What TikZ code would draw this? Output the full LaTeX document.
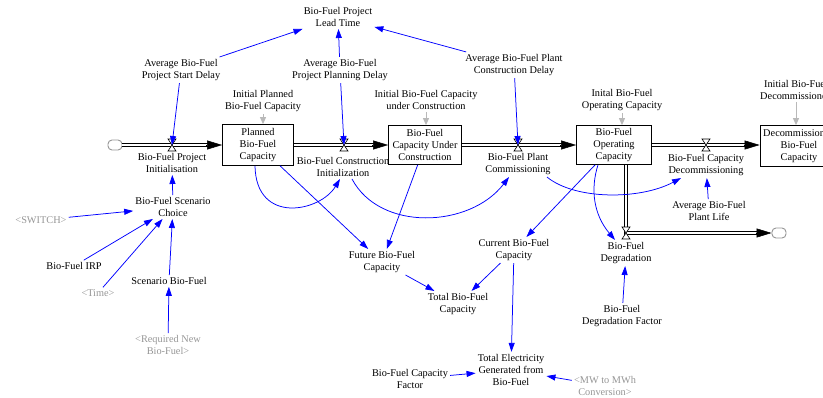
\documentclass[tikz,border=0pt]{standalone}
\usepackage{fontspec}
\setmainfont{Liberation Serif}
\usetikzlibrary{arrows.meta}
\definecolor{vblue}{RGB}{0,0,255}
\definecolor{ghost}{RGB}{150,150,150}
\definecolor{garrow}{RGB}{185,185,185}
\begin{document}
\begin{tikzpicture}[x=1pt,y=-1pt,
 every node/.style={font=\fontsize{10.3}{12.3}\selectfont, align=center, inner sep=2pt},
 ghosttext/.style={text=ghost},
 stock/.style={draw, line width=0.75pt, minimum width=#1, minimum height=39pt, inner sep=1pt},
 link/.style={draw=vblue, line width=0.75pt, -{Triangle[length=9pt,width=6pt]}},
 glink/.style={draw=garrow, line width=0.9pt, -{Triangle[length=7pt,width=6pt]}},
 pipe/.style={draw=black, line width=0.7pt, double=white, double distance=1.8pt},
 pipetip/.style={-{Triangle[length=15pt,width=9pt]}, line width=0.5pt},
 cloudy/.style={rectangle, rounded corners=4pt, draw=ghost, fill=white, line width=0.9pt, minimum width=14pt, minimum height=10pt, inner sep=0pt},
 valve/.pic={\draw[fill=white, line width=0.6pt] (-4,-6) -- (4,-6) -- (-4,6) -- (4,6) -- cycle;}
]
\path[use as bounding box] (0,0) rectangle (823,397);
\clip (0,0) rectangle (823,397);

% stocks
\node[stock=71pt, minimum height=41pt] (planned) at (258,145) {Planned\\Bio-Fuel\\Capacity};
\node[stock=73pt] (uc) at (425,145) {Bio-Fuel\\Capacity Under\\Construction};
\node[stock=75pt] (op) at (614,145) {Bio-Fuel\\Operating\\Capacity};
\node[stock=78pt, minimum height=41pt] (dec) at (799,146) {Decommissioned\\Bio-Fuel\\Capacity};

% clouds
\node[cloudy] (c1) at (115,145) {};
\node[cloudy] (c2) at (779,233) {};

% valves (centres)
\coordinate (v1) at (172,145);
\coordinate (v2) at (344,145);
\coordinate (v3) at (518,145);
\coordinate (v4) at (706,145);
\coordinate (v5) at (626,233);

% pipes
\draw[pipe] (c1.east) -- ([xshift=-14pt]planned.west);
\draw[pipetip] ([xshift=-16pt]planned.west) -- (planned.west);
\draw[pipe] (planned.east) -- ([xshift=-14pt]uc.west);
\draw[pipetip] ([xshift=-16pt]uc.west) -- (uc.west);
\draw[pipe] (uc.east) -- ([xshift=-14pt]op.west);
\draw[pipetip] ([xshift=-16pt]op.west) -- (op.west);
\draw[pipe] (op.east) -- ([xshift=-14pt]dec.west |- op.east);
\draw[pipetip] ([xshift=-16pt]dec.west |- op.east) -- (dec.west |- op.east);
\draw[pipe] ([xshift=12pt]op.south) -- (v5) -- ([xshift=-14pt]c2.west);
\draw[pipetip] ([xshift=-16pt]c2.west) -- (c2.west);

\pic at (v1) {valve};
\pic at (v2) {valve};
\pic at (v3) {valve};
\pic at (v4) {valve};
\pic at (v5) {valve};

% flow labels
\node (init) at (172,163) {Bio-Fuel Project\\Initialisation};
\node (cinit) at (343,167) {Bio-Fuel Construction\\Initialization};
\node (pcomm) at (518,164) {Bio-Fuel Plant\\Commissioning};
\node (cdecom) at (706,165) {Bio-Fuel Capacity\\Decommissioning};
\node (deg) at (626,253) {Bio-Fuel\\Degradation};

% auxiliaries
\node (lt) at (338,17) {Bio-Fuel Project\\Lead Time};
\node (asd) at (181,70) {Average Bio-Fuel\\Project Start Delay};
\node (apd) at (340,70) {Average Bio-Fuel\\Project Planning Delay};
\node (acd) at (514,65) {Average Bio-Fuel Plant\\Construction Delay};
\node (ipc) at (263,101) {Initial Planned\\Bio-Fuel Capacity};
\node (iuc) at (426,100) {Initial Bio-Fuel Capacity\\under Construction};
\node (ioc) at (622,100) {Inital Bio-Fuel\\Operating Capacity};
\node (idc) at (796,90) {Initial Bio-Fuel\\Decommissioned};

\node (choice) at (173,207) {Bio-Fuel Scenario\\Choice};
\node[ghosttext] (switch) at (41,220) {\textless SWITCH\textgreater};
\node (irp) at (74,266) {Bio-Fuel IRP};
\node[ghosttext] (time) at (98,293) {\textless Time\textgreater};
\node (sbf) at (169,281) {Scenario Bio-Fuel};
\node[ghosttext] (rnb) at (168,345) {\textless Required New\\Bio-Fuel\textgreater};
\node (fut) at (382,262) {Future Bio-Fuel\\Capacity};
\node (cur) at (514,250) {Current Bio-Fuel\\Capacity};
\node (tot) at (458,304) {Total Bio-Fuel\\Capacity};
\node (te) at (511,370) {Total Electricity\\Generated from\\Bio-Fuel};
\node (cf) at (410,379) {Bio-Fuel Capacity\\Factor};
\node[ghosttext] (mw) at (605,386) {\textless MW to MWh\\Conversion\textgreater};
\node (apl) at (709,211) {Average Bio-Fuel\\Plant Life};
\node (dgf) at (622,316) {Bio-Fuel\\Degradation Factor};

% gray links
\draw[glink] (ipc) -- (ipc |- planned.north);
\draw[glink] (iuc) -- (iuc |- uc.north);
\draw[glink] (ioc) -- (ioc |- op.north);
\draw[glink] (idc) -- (idc |- dec.north);

% blue links
\draw[link] (asd) -- (lt);
\draw[link] (apd) -- (lt);
\draw[link] (acd) -- (lt);
\draw[link] (asd) -- (v1);
\draw[link] (apd) -- (v2);
\draw[link] (acd) -- (v3);
\draw[link] (choice) -- (init);
\draw[link] (switch) -- (choice);
\draw[link] (irp) -- (choice);
\draw[link] (time) -- (choice);
\draw[link] (sbf) -- (choice);
\draw[link] (rnb) -- (sbf);
\draw[link] ([xshift=-3pt]planned.south) .. controls (256,225) and (320,212) .. ([xshift=-3pt]cinit.south);
\draw[link] ([xshift=9pt]cinit.south) .. controls (380,232) and (470,228) .. ([xshift=-9pt]pcomm.south);
\draw[link] ([xshift=29pt]pcomm.south) .. controls (575,200) and (640,200) .. ([xshift=-25pt]cdecom.south);
\draw[link] (planned) -- (fut);
\draw[link] (uc) -- (fut);
\draw[link] (op) -- (cur);
\draw[link] ([xshift=-16pt]op.south) .. controls (590,190) and (594,215) .. (deg);
\draw[link] (apl) -- (cdecom);
\draw[link] (dgf) -- (deg);
\draw[link] (fut) -- (tot);
\draw[link] (cur) -- (tot);
\draw[link] (cur) -- (te);
\draw[link] (cf) -- (te);
\draw[link] (mw) -- (te);
\end{tikzpicture}
\end{document}
